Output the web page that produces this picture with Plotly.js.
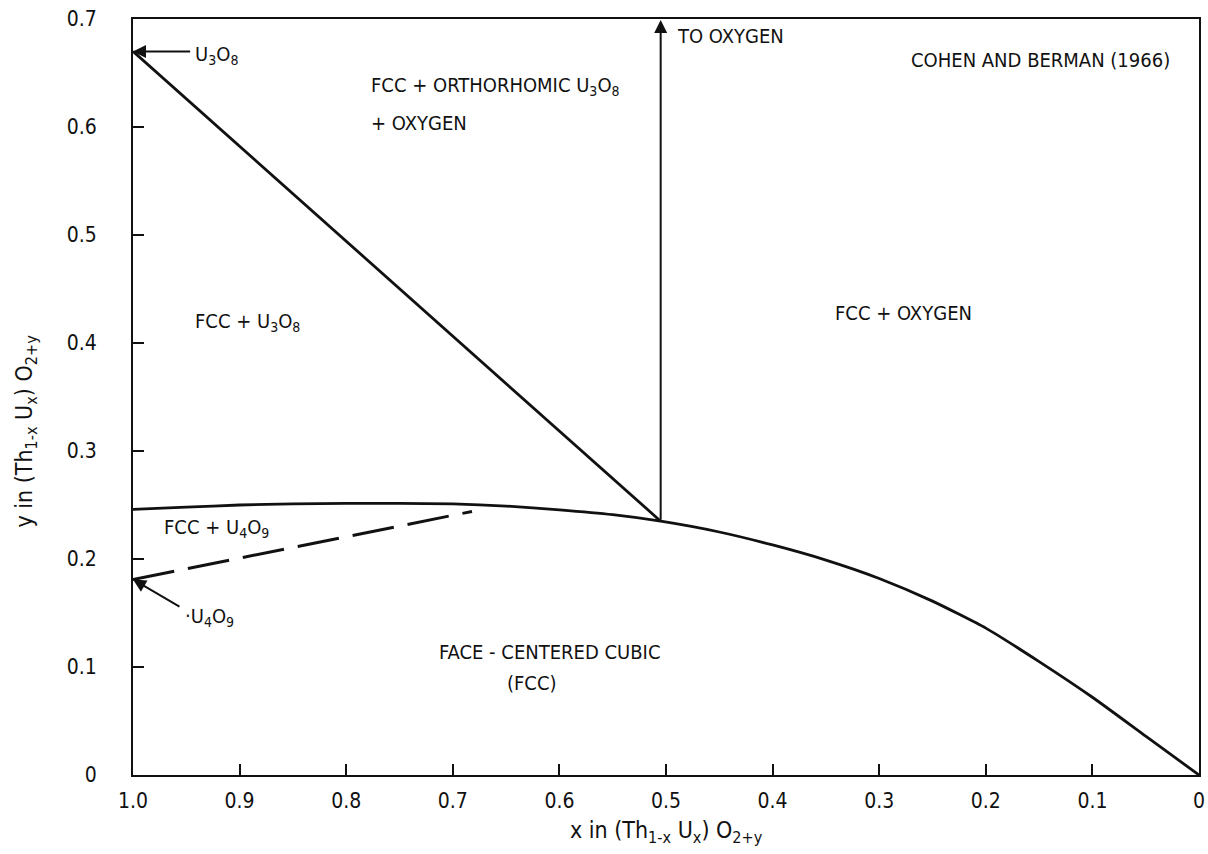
<!DOCTYPE html>
<html>
<head>
<meta charset="utf-8">
<script src="https://cdn.plot.ly/plotly-3.0.1.min.js"></script>
<style>html,body{margin:0;padding:0;background:#fff;}#chart{width:1208px;height:854px;}</style>
</head>
<body>
<div id="chart"></div>
<script>
// ---- data ----
const boundaryX = [1.0, 0.95, 0.9, 0.85, 0.8, 0.75, 0.7, 0.65, 0.6, 0.55, 0.505, 0.45, 0.4, 0.35, 0.3, 0.25, 0.2, 0.15, 0.1, 0.05, 0.0];
const boundaryY = [0.246, 0.248, 0.250, 0.251, 0.2515, 0.2515, 0.251, 0.249, 0.2455, 0.241, 0.235, 0.225, 0.213, 0.199, 0.182, 0.161, 0.136, 0.105, 0.072, 0.036, 0.0];
const tieLineX = [1.0, 0.505];
const tieLineY = [0.67, 0.235];
const dashedX = [1.0, 0.682];
const dashedY = [0.181, 0.244];
const oxygenArrowX = 0.505;
const oxygenArrowY = [0.235, 0.699];
const u3o8Point = [1.0, 0.67];
const u4o9Point = [1.0, 0.181];
const xTickVals = [1.0, 0.9, 0.8, 0.7, 0.6, 0.5, 0.4, 0.3, 0.2, 0.1, 0.0];
const xTickText = ["1.0", "0.9", "0.8", "0.7", "0.6", "0.5", "0.4", "0.3", "0.2", "0.1", "0"];
const yTickVals = [0, 0.1, 0.2, 0.3, 0.4, 0.5, 0.6, 0.7];
const yTickText = ["0", "0.1", "0.2", "0.3", "0.4", "0.5", "0.6", "0.7"];

const FONT = "DejaVu Sans Condensed, DejaVu Sans, sans-serif";
const INK = "#111";

const traces = [
  {x: boundaryX, y: boundaryY, mode: "lines", line: {color: INK, width: 2.8, shape: "spline", smoothing: 0.5}, cliponaxis: false, hoverinfo: "skip"},
  {x: tieLineX, y: tieLineY, mode: "lines", line: {color: INK, width: 2.8}, cliponaxis: false, hoverinfo: "skip"},
  {x: dashedX, y: dashedY, mode: "lines", line: {color: INK, width: 3, dash: "42px,14px"}, cliponaxis: false, hoverinfo: "skip"}
];

function label(text, x, y, anchor) {
  return {text: text, x: x, y: y, xref: "x", yref: "y", showarrow: false,
          xanchor: anchor || "left", yanchor: "middle", font: {family: FONT, size: 20, color: INK}};
}

const annotations = [
  // arrows
  {x: oxygenArrowX, y: oxygenArrowY[1], ax: oxygenArrowX, ay: oxygenArrowY[0], xref: "x", yref: "y", axref: "x", ayref: "y",
   text: "", showarrow: true, arrowhead: 2, arrowsize: 1.3, arrowwidth: 2, arrowcolor: INK, standoff: 0},
  {x: u3o8Point[0], y: u3o8Point[1], ax: 0.945, ay: u3o8Point[1], xref: "x", yref: "y", axref: "x", ayref: "y",
   text: "", showarrow: true, arrowhead: 2, arrowsize: 1.3, arrowwidth: 2, arrowcolor: INK, standoff: 0},
  {x: u4o9Point[0], y: u4o9Point[1], ax: 0.955, ay: 0.155, xref: "x", yref: "y", axref: "x", ayref: "y",
   text: "", showarrow: true, arrowhead: 2, arrowsize: 1.3, arrowwidth: 2, arrowcolor: INK, standoff: 0},
  // labels
  label("U<sub>3</sub>O<sub>8</sub>", 0.944, 0.667),
  label("·U<sub>4</sub>O<sub>9</sub>", 0.953, 0.146),
  label("TO OXYGEN", 0.492, 0.684),
  label("COHEN AND BERMAN (1966)", 0.272, 0.662),
  label("FCC + ORTHORHOMIC U<sub>3</sub>O<sub>8</sub>", 0.779, 0.638),
  label("+ OXYGEN", 0.779, 0.604),
  label("FCC + U<sub>3</sub>O<sub>8</sub>", 0.944, 0.419),
  label("FCC + OXYGEN", 0.343, 0.428),
  label("FCC + U<sub>4</sub>O<sub>9</sub>", 0.973, 0.229),
  label("FACE - CENTERED CUBIC", 0.609, 0.114, "center"),
  label("(FCC)", 0.626, 0.085, "center"),
  // axis titles
  {text: "x in (Th<sub>1-x</sub> U<sub>x</sub>) O<sub>2+y</sub>", xref: "paper", yref: "paper", x: 0.5, y: 0,
   yanchor: "top", xanchor: "center", yshift: -40, showarrow: false, font: {family: FONT, size: 23, color: INK}},
  {text: "y in (Th<sub>1-x</sub> U<sub>x</sub>) O<sub>2+y</sub>", xref: "paper", yref: "y", x: 0, y: 0.318,
   xanchor: "center", yanchor: "middle", xshift: -107, textangle: -90, showarrow: false, font: {family: FONT, size: 23, color: INK}}
];

const axisCommon = {showgrid: false, zeroline: false, showline: true, linecolor: INK, linewidth: 2, mirror: true,
  ticks: "inside", ticklen: 11, tickwidth: 1.5, tickcolor: INK, tickfont: {family: FONT, size: 21, color: INK},
  ticklabeloverflow: "allow", fixedrange: true};

const layout = {
  width: 1208, height: 854,
  margin: {l: 133, r: 9, t: 19, b: 79},
  paper_bgcolor: "#fff", plot_bgcolor: "#fff",
  showlegend: false,
  xaxis: Object.assign({}, axisCommon, {range: [1.0000001, -0.0000001], tickmode: "array", tickvals: xTickVals, ticktext: xTickText, ticklabelstandoff: 6}),
  yaxis: Object.assign({}, axisCommon, {range: [0, 0.7], tickmode: "array", tickvals: yTickVals, ticktext: yTickText, ticklabelstandoff: 30}),
  annotations: annotations
};

Plotly.newPlot("chart", traces, layout, {displayModeBar: false});
</script>
</body>
</html>
